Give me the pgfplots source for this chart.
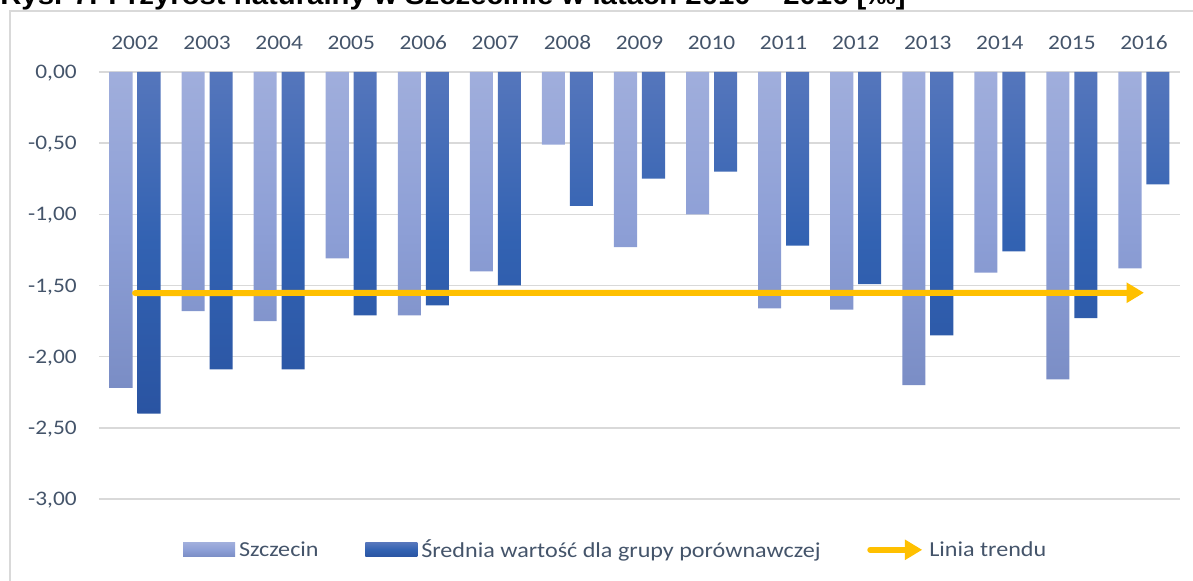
\documentclass[border=0pt]{standalone}
\usepackage{fontspec}
\setmainfont{Carlito}[FakeStretch=1.13]
\newfontfamily\titlefont{Liberation Sans}[FakeStretch=1.1]
\usepackage{pgfplots}
\usepackage{pgfplotstable}
\pgfplotsset{compat=1.18}
\usetikzlibrary{arrows.meta}

\definecolor{txt}{HTML}{44546A}
\definecolor{gridc}{HTML}{D9D9D9}
\definecolor{trend}{HTML}{FFC000}
\definecolor{szTop}{HTML}{A0AEDC}
\definecolor{szMid}{HTML}{8D9FD6}
\definecolor{szBot}{HTML}{7A8DC5}
\definecolor{avTop}{HTML}{5576BC}
\definecolor{avMid}{HTML}{3262B2}
\definecolor{avBot}{HTML}{2A54A2}

% przyrost naturalny [promile], 2002-2016
\pgfplotstableread{
x  szc    avg
0  -2.22  -2.40
1  -1.68  -2.09
2  -1.75  -2.09
3  -1.31  -1.71
4  -1.71  -1.64
5  -1.40  -1.50
6  -0.51  -0.94
7  -1.23  -0.75
8  -1.00  -0.70
9  -1.66  -1.22
10 -1.67  -1.49
11 -2.20  -1.85
12 -1.41  -1.26
13 -2.16  -1.73
14 -1.38  -0.79
}\data

\begin{document}
\begin{tikzpicture}
% axis box: south west corner at the origin
\begin{axis}[
  scale only axis,
  width=810.75pt, height=320.25pt,
  xmin=-0.5, xmax=14.5, ymin=-3, ymax=0,
  xtick={0,...,14},
  xticklabels={2002,2003,2004,2005,2006,2007,2008,2009,2010,2011,2012,2013,2014,2015,2016},
  xticklabel pos=upper,
  ytick={-3,-2.5,-2,-1.5,-1,-0.5,0},
  /pgf/number format/fixed,
  /pgf/number format/fixed zerofill,
  /pgf/number format/precision=2,
  /pgf/number format/use comma,
  /pgf/number format/assume math mode=true,
  axis line style={draw=none},
  major tick length=0pt,
  ymajorgrids, grid style={gridc, line width=1.2pt},
  tick label style={font=\fontsize{15.5}{18}\selectfont, text=txt},
  yticklabel style={anchor=base east, inner sep=0pt, xshift=-16.5pt, yshift=-4.9pt},
  xticklabel style={anchor=base, inner sep=0pt, yshift=17pt},
  legend columns=3,
  legend style={draw=none, fill=none, at={(0.477,-0.119)}, anchor=center,
    font=\fontsize{16}{19}\selectfont, text=txt,
    nodes={inner sep=0pt},
    /tikz/every odd column/.append style={column sep=3pt},
    /tikz/every even column/.append style={column sep=35pt}},
]
\addplot[ybar, bar width=0.32, bar shift=-0.194, draw=none,
  top color=szTop, bottom color=szBot, middle color=szMid,
  legend image code/.code={\path[top color=szTop, bottom color=szBot, middle color=szMid] (0pt,-5.25pt) rectangle (39pt,5.25pt);}]
  table[x=x, y=szc] {\data};
\addlegendentry{Szczecin}
\addplot[ybar, bar width=0.32, bar shift=0.194, draw=none,
  top color=avTop, bottom color=avBot, middle color=avMid,
  legend image code/.code={\path[top color=avTop, bottom color=avBot, middle color=avMid] (0pt,-5.25pt) rectangle (39pt,5.25pt);}]
  table[x=x, y=avg] {\data};
\addlegendentry{Średnia wartość dla grupy porównawczej}
\addplot[trend, line width=4.5pt, line cap=round, -{Triangle[width=14.5pt,length=13pt]},
  legend image code/.code={\draw[trend, line width=4.5pt, -{Triangle[width=14.5pt,length=13pt]}] (0pt,0pt) -- (39pt,0pt);}]
  coordinates {(0,-1.553) (14,-1.551)};
\addlegendentry{Linia trendu}
\end{axis}
\draw[gridc, line width=1.1pt] (-66.75pt,-100pt) rectangle (900pt,366pt);
\node[anchor=base west, inner sep=0pt, font=\titlefont\bfseries\fontsize{20}{22}\selectfont]
  at (-74.25pt,370.5pt) {Rys. 7. Przyrost naturalny w Szczecinie w latach 2010 – 2016 [‰]};
\pgfresetboundingbox
\path[use as bounding box] (-74.25pt,-61.5pt) rectangle (820.5pt,374.25pt);
\end{tikzpicture}
\end{document}
